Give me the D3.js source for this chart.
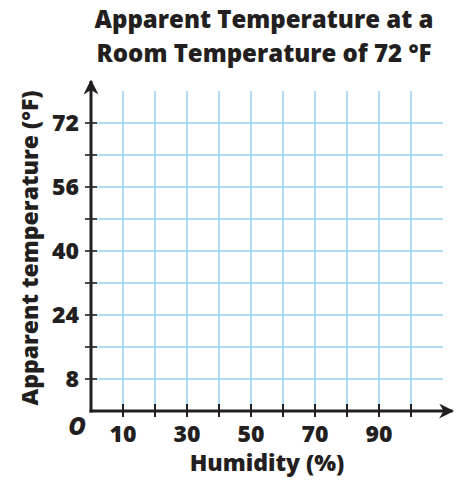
<!DOCTYPE html>
<html>
<head>
<meta charset="utf-8">
<script src="https://cdn.jsdelivr.net/npm/d3@7"></script>
<style>
  body { margin: 0; background: #fff; }
  text { font-family: "Open Sans", sans-serif; font-weight: 800; fill: #231f20; }
</style>
</head>
<body>
<div id="chart"></div>
<script>
// grid & labels
var xGrid = [10, 20, 30, 40, 50, 60, 70, 80, 90, 100];
var xLabels = [10, 30, 50, 70, 90];
var yGrid = [8, 16, 24, 32, 40, 48, 56, 64, 72];
var yLabels = [8, 24, 40, 56, 72];
var titleLines = ["Apparent Temperature at a", "Room Temperature of 72 \u00B0F"];

var width = 464, height = 480;

var svg = d3.select("#chart").append("svg")
    .attr("width", width)
    .attr("height", height);

var x = d3.scaleLinear().domain([0, 100]).range([91, 411]);
var y = d3.scaleLinear().domain([0, 80]).range([411, 91]);

var gridColor = "#93d5f2";

// vertical grid lines
svg.selectAll(".vgrid")
    .data(xGrid)
    .enter().append("line")
    .attr("class", "vgrid")
    .attr("x1", function (d) { return x(d); })
    .attr("x2", function (d) { return x(d); })
    .attr("y1", y(80))
    .attr("y2", y(0))
    .attr("stroke", gridColor)
    .attr("stroke-width", 1.5);

// horizontal grid lines
svg.selectAll(".hgrid")
    .data(yGrid)
    .enter().append("line")
    .attr("class", "hgrid")
    .attr("x1", x(0))
    .attr("x2", x(110))
    .attr("y1", function (d) { return y(d); })
    .attr("y2", function (d) { return y(d); })
    .attr("stroke", gridColor)
    .attr("stroke-width", 1.5);

// arrow heads
var defs = svg.append("defs");
defs.append("marker")
    .attr("id", "arrow")
    .attr("viewBox", "0 0 10 10")
    .attr("refX", 9)
    .attr("refY", 5)
    .attr("markerWidth", 5)
    .attr("markerHeight", 5)
    .attr("markerUnits", "strokeWidth")
    .attr("orient", "auto")
    .append("path")
    .attr("d", "M0,0 L10,5 L0,10 L3,5 Z")
    .attr("fill", "#231f20");

// y ticks (cross the axis)
svg.selectAll(".ytick")
    .data(yGrid)
    .enter().append("line")
    .attr("x1", x(0) - 6)
    .attr("x2", x(0) + 6)
    .attr("y1", function (d) { return y(d); })
    .attr("y2", function (d) { return y(d); })
    .attr("stroke", "#4a4a4a")
    .attr("stroke-width", 2);

// x ticks
svg.selectAll(".xtick")
    .data(xGrid)
    .enter().append("line")
    .attr("x1", function (d) { return x(d); })
    .attr("x2", function (d) { return x(d); })
    .attr("y1", y(0) - 7)
    .attr("y2", y(0) + 6)
    .attr("stroke", "#231f20")
    .attr("stroke-width", 2);

// axes
svg.append("line")
    .attr("x1", x(0))
    .attr("x2", x(0))
    .attr("y1", y(0) + 1.5)
    .attr("y2", y(82.5))
    .attr("stroke", "#231f20")
    .attr("stroke-width", 3)
    .attr("marker-end", "url(#arrow)");

svg.append("line")
    .attr("x1", x(0) - 1.5)
    .attr("x2", x(113))
    .attr("y1", y(0))
    .attr("y2", y(0))
    .attr("stroke", "#231f20")
    .attr("stroke-width", 3)
    .attr("marker-end", "url(#arrow)");

// tick labels
svg.selectAll(".ylab")
    .data(yLabels)
    .enter().append("text")
    .attr("x", x(0) - 12)
    .attr("y", function (d) { return y(d); })
    .attr("dy", "0.36em")
    .attr("text-anchor", "end")
    .attr("font-size", 23)
    .text(function (d) { return d; });

svg.selectAll(".xlab")
    .data(xLabels)
    .enter().append("text")
    .attr("x", function (d) { return x(d); })
    .attr("y", 442)
    .attr("text-anchor", "middle")
    .attr("font-size", 23)
    .text(function (d) { return d; });

// origin
svg.append("text")
    .attr("x", 77)
    .attr("y", 435)
    .attr("text-anchor", "middle")
    .attr("font-size", 24)
    .attr("font-style", "italic")
    .text("O");

// axis titles
svg.append("text")
    .attr("x", 267)
    .attr("y", 471)
    .attr("text-anchor", "middle")
    .attr("font-size", 23)
    .text("Humidity (%)");

svg.append("text")
    .attr("transform", "translate(38,248) rotate(-90)")
    .attr("text-anchor", "middle")
    .attr("font-size", 23)
    .text("Apparent temperature (\u00B0F)");

// title
svg.selectAll(".title")
    .data(titleLines)
    .enter().append("text")
    .attr("x", 264)
    .attr("y", function (d, i) { return 28 + i * 34; })
    .attr("text-anchor", "middle")
    .attr("font-size", 24)
    .text(function (d) { return d; });
</script>
</body>
</html>
